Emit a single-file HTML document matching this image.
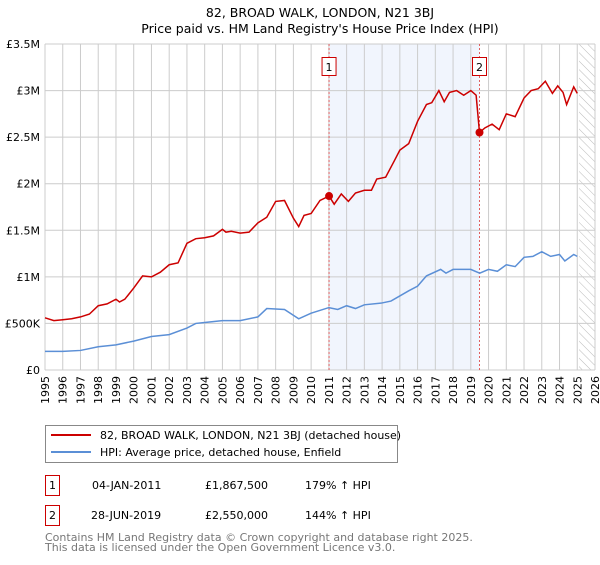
<!DOCTYPE html>
<html><head><meta charset="utf-8"><style>
body{margin:0;background:#fff;font-family:"Liberation Sans","DejaVu Sans",sans-serif;}
svg text{font-family:"DejaVu Sans","Liberation Sans",sans-serif;}
</style></head><body>
<svg id="c" width="600" height="560" xmlns="http://www.w3.org/2000/svg">
<text x="320" y="17" text-anchor="middle" font-size="12.5">82, BROAD WALK, LONDON, N21 3BJ</text>
<text x="320" y="33" text-anchor="middle" font-size="12.5">Price paid vs. HM Land Registry's House Price Index (HPI)</text>
<g id="plot"></g>
<g>
<rect x="45.5" y="425.5" width="352" height="37" fill="#fff" stroke="#888"/>
<line x1="51" y1="435" x2="91" y2="435" stroke="#cc0000" stroke-width="2"/>
<text x="100" y="439" font-size="11">82, BROAD WALK, LONDON, N21 3BJ (detached house)</text>
<line x1="51" y1="452" x2="91" y2="452" stroke="#5b8fd6" stroke-width="2"/>
<text x="100" y="456" font-size="11">HPI: Average price, detached house, Enfield</text>
</g>
<g font-size="11">
<rect x="45.5" y="475.5" width="14" height="20" fill="#fff" stroke="#cc0000"/>
<text x="52.5" y="489" text-anchor="middle">1</text>
<text x="92" y="489">04-JAN-2011</text><text x="205" y="489">£1,867,500</text><text x="305" y="489">179% ↑ HPI</text>
<rect x="45.5" y="505.5" width="14" height="20" fill="#fff" stroke="#cc0000"/>
<text x="52.5" y="519" text-anchor="middle">2</text>
<text x="91" y="519">28-JUN-2019</text><text x="205" y="519">£2,550,000</text><text x="305" y="519">144% ↑ HPI</text>
</g>
<text x="45" y="541" font-size="11" fill="#777">Contains HM Land Registry data © Crown copyright and database right 2025.</text>
<text x="45" y="551" font-size="11" fill="#777">This data is licensed under the Open Government Licence v3.0.</text>
</svg>
<script>
const yTicks=[0,500000,1000000,1500000,2000000,2500000,3000000,3500000];
const yTickLabels=["£0","£500K","£1M","£1.5M","£2M","£2.5M","£3M","£3.5M"];
const years=[1995,1996,1997,1998,1999,2000,2001,2002,2003,2004,2005,2006,2007,2008,2009,2010,2011,2012,2013,2014,2015,2016,2017,2018,2019,2020,2021,2022,2023,2024,2025,2026];
const redX=[1995,1995.5,1996,1996.5,1997,1997.5,1998,1998.5,1999,1999.2,1999.5,2000,2000.5,2001,2001.5,2002,2002.5,2003,2003.5,2004,2004.5,2005,2005.2,2005.5,2006,2006.5,2007,2007.5,2008,2008.5,2009,2009.3,2009.6,2010,2010.5,2011.01,2011.3,2011.7,2012.1,2012.5,2013,2013.4,2013.7,2014.2,2014.7,2015,2015.5,2016,2016.5,2016.8,2017.2,2017.5,2017.8,2018.2,2018.6,2019,2019.3,2019.49,2019.8,2020.2,2020.6,2021,2021.5,2022,2022.4,2022.8,2023.2,2023.6,2023.9,2024.2,2024.4,2024.8,2025];
const redY=[0.56,0.53,0.54,0.55,0.57,0.6,0.69,0.71,0.76,0.73,0.76,0.88,1.01,1.0,1.05,1.13,1.15,1.36,1.41,1.42,1.44,1.51,1.48,1.49,1.47,1.48,1.58,1.64,1.81,1.82,1.63,1.54,1.66,1.68,1.82,1.8675,1.78,1.89,1.81,1.9,1.93,1.93,2.05,2.07,2.25,2.36,2.43,2.67,2.85,2.87,3.0,2.88,2.98,3.0,2.95,3.0,2.95,2.55,2.6,2.64,2.58,2.75,2.72,2.92,3.0,3.02,3.1,2.97,3.05,2.98,2.85,3.04,2.97];
const hpiX=[1995,1996,1997,1998,1999,2000,2001,2002,2003,2003.5,2004,2005,2006,2007,2007.5,2008.5,2009.3,2010,2011,2011.5,2012,2012.5,2013,2014,2014.5,2015.5,2016,2016.5,2017.3,2017.6,2018,2019,2019.5,2020,2020.5,2021,2021.5,2022,2022.5,2023,2023.5,2024,2024.3,2024.8,2025];
const hpiY=[0.2,0.2,0.21,0.25,0.27,0.31,0.36,0.38,0.45,0.5,0.51,0.53,0.53,0.57,0.66,0.65,0.55,0.61,0.67,0.65,0.69,0.66,0.7,0.72,0.74,0.85,0.9,1.01,1.08,1.04,1.08,1.08,1.04,1.08,1.06,1.13,1.11,1.21,1.22,1.27,1.22,1.24,1.17,1.24,1.22];
const sales=[[2011.01,1867500,"1"],[2019.49,2550000,"2"]];
const X0=45,X1=595,Y0=370,Y1=44;
const xs=y=>X0+(y-1995)/(2026-1995)*(X1-X0);
const ys=v=>Y0-v/3500000*(Y0-Y1);
const NS="http://www.w3.org/2000/svg";
const g=document.getElementById('plot');
function mk(t,a){const e=document.createElementNS(NS,t);for(const k in a)e.setAttribute(k,a[k]);g.appendChild(e);return e;}
let e;
e=mk('rect',{x:xs(2011.01),y:Y1,width:xs(2019.49)-xs(2011.01),height:Y0-Y1,fill:'#eef3fd',opacity:0.8});


const defs=document.createElementNS(NS,'defs');defs.innerHTML='<pattern id="h" width="6" height="6" patternUnits="userSpaceOnUse" patternTransform="rotate(-45)"><line x1="0" y1="0" x2="0" y2="6" stroke="#bbb" stroke-width="1"/></pattern>';g.appendChild(defs);
e=mk('rect',{x:xs(2025.1),y:Y1,width:X1-xs(2025.1),height:Y0-Y1,fill:'url(#h)'});


years.forEach(y=>{
 e=mk('line',{x1:xs(y),x2:xs(y),y1:Y1,y2:Y0,stroke:'#ccc','stroke-width':1});
 
 
 e=mk('text',{x:0,y:0,'font-size':11,'text-anchor':'end',transform:`translate(${xs(y)+4},${Y0+6}) rotate(-90)`});
 e.textContent=y;
 
 
});
yTicks.forEach((v,i)=>{
 e=mk('line',{x1:X0,x2:X1,y1:ys(v),y2:ys(v),stroke:'#ccc','stroke-width':1});
 
 
 e=mk('text',{x:X0-5,y:ys(v)+4,'font-size':11,'text-anchor':'end'});
 e.textContent=yTickLabels[i];
 
 
});
sales.forEach(s=>{
 e=mk('line',{x1:xs(s[0]),x2:xs(s[0]),y1:Y1,y2:Y0,stroke:'#e06060','stroke-dasharray':'2,2'});
 
 
});
e=mk('polyline',{points:hpiX.map((x,i)=>xs(x)+','+ys(hpiY[i]*1e6)).join(' '),fill:'none',stroke:'#5b8fd6','stroke-width':1.5});


e=mk('polyline',{points:redX.map((x,i)=>xs(x)+','+ys(redY[i]*1e6)).join(' '),fill:'none',stroke:'#cc0000','stroke-width':1.5});


sales.forEach(s=>{
 e=mk('circle',{cx:xs(s[0]),cy:ys(s[1]),r:4,fill:'#cc0000'});
 
 
 e=mk('rect',{x:xs(s[0])-7,y:57.5,width:14,height:18,fill:'#fff',stroke:'#cc0000'});
 
 
 e=mk('text',{x:xs(s[0]),y:71,'font-size':11,'text-anchor':'middle'});
 e.textContent=s[2];
 
 
});
</script>
</body></html>
